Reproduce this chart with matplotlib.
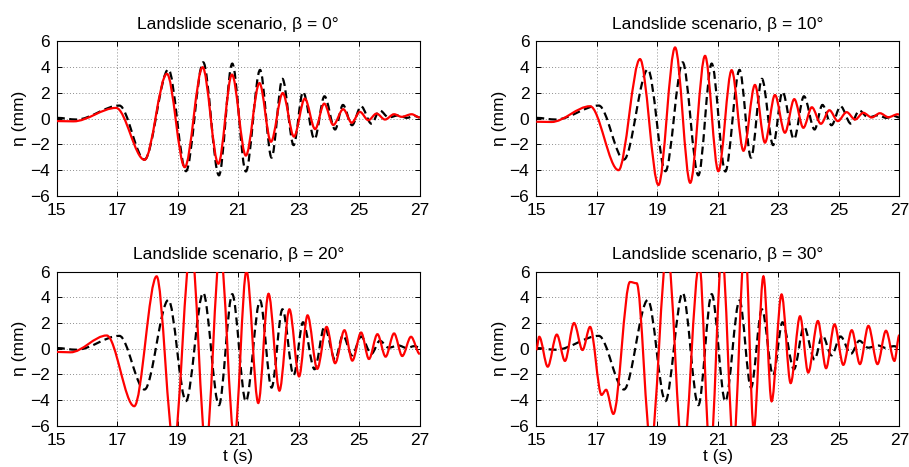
import matplotlib
matplotlib.use('Agg')
import matplotlib.pyplot as plt
from matplotlib.path import Path
from matplotlib.patches import PathPatch

plt.rcParams['font.family'] = ['Liberation Sans', 'DejaVu Sans']

# ---- data (extrema; time in s, eta in mm) ----
titles = ['Landslide scenario, β = 0°', 'Landslide scenario, β = 10°',
          'Landslide scenario, β = 20°', 'Landslide scenario, β = 30°']
xticks = [15, 17, 19, 21, 23, 25, 27]
yticks = [-6, -4, -2, 0, 2, 4, 6]

# reference (dashed black) series, same in all panels
black_t = [15.0, 15.65, 17.07, 17.9, 18.69, 19.27, 19.84, 20.36, 20.8, 21.25, 21.72,
           22.1, 22.46, 22.83, 23.14, 23.52, 23.85, 24.2, 24.46, 24.76, 25.06, 25.4,
           25.68, 25.97, 26.3, 26.57, 26.82, 27.0]
black_eta = [0.05, -0.08, 1.0, -3.18, 3.8, -4.08, 4.35, -4.4, 4.25, -4.1, 3.76,
             -3.03, 3.07, -2.06, 2.06, -1.6, 1.72, -0.85, 1.05, -0.52, 0.95, -0.4,
             0.62, 0.08, 0.25, 0.05, 0.2, 0.08]

red0_t = [15.0, 15.55, 16.96, 17.9, 18.64, 19.23, 19.82, 20.34, 20.79, 21.25, 21.7,
          22.08, 22.47, 22.84, 23.2, 23.54, 23.84, 24.14, 24.47, 24.75, 25.02, 25.3,
          25.57, 25.85, 26.15, 26.4, 26.73, 27.0]
red0_eta = [-0.2, -0.22, 0.82, -3.2, 3.46, -3.77, 3.97, -3.5, 3.4, -2.87, 2.74,
            -1.8, 1.97, -1.4, 1.54, -0.82, 1.15, -0.5, 0.72, -0.33, 0.51, -0.13,
            0.38, -0.08, 0.33, 0.13, 0.33, 0.08]

red10_t = [15.0, 15.5, 16.78, 17.72, 18.43, 19.04, 19.59, 20.09, 20.58, 21.02, 21.46,
           21.85, 22.23, 22.56, 22.89, 23.22, 23.53, 23.83, 24.11, 24.41, 24.69, 24.97,
           25.26, 25.54, 25.81, 26.09, 26.36, 26.64, 26.95, 27.0]
red10_eta = [-0.25, -0.27, 0.95, -4.0, 4.6, -5.15, 5.5, -4.98, 4.85, -4.08, 3.74,
             -2.5, 2.6, -1.87, 1.82, -1.1, 1.5, -0.72, 0.87, -0.41, 0.64, -0.2,
             0.49, -0.08, 0.44, 0.08, 0.41, 0.1, 0.33, 0.3]

red20_t = [15.0, 15.45, 16.65, 17.56, 18.3, 18.87, 19.44, 19.93, 20.4, 20.87, 21.27,
           21.66, 22.0, 22.36, 22.69, 23.01, 23.29, 23.61, 23.92, 24.2, 24.51, 24.77,
           25.06, 25.32, 25.6, 25.87, 26.15, 26.42, 26.71, 27.0]
red20_eta = [-0.25, -0.28, 1.03, -4.48, 5.64, -7.5, 8.2, -7.7, 7.7, -7.0, 6.05,
             -4.23, 4.28, -3.27, 3.07, -2.16, 2.6, -1.57, 1.7, -1.13, 1.44, -0.93,
             1.26, -0.8, 1.13, -0.62, 1.19, -0.57, 0.93, -0.41]

red30_t = [15.0, 15.1, 15.38, 15.68, 15.95, 16.25, 16.53, 16.78, 17.16, 17.31, 17.55,
           18.1, 18.32, 18.79, 19.33, 19.85, 20.39, 20.75, 21.14, 21.52, 21.9, 22.19,
           22.51, 22.78, 23.11, 23.41, 23.72, 23.99, 24.31, 24.58, 24.86, 25.15,
           25.43, 25.7, 25.98, 26.28, 26.56, 26.84, 27.0]
red30_eta = [-0.1, 0.93, -1.4, 1.1, -0.95, 2.0, -0.1, 1.7, -3.6, -3.2, -5.08,
             5.2, 5.1, -7.5, 7.8, -8.5, 6.6, -8.5, 7.5, -7.5, 8.5, -6.3,
             5.64, -4.1, 4.23, -2.68, 2.53, -1.86, 2.16, -1.52, 1.9, -1.26,
             1.44, -1.2, 1.78, -1.2, 1.4, -0.95, 1.05]

red_series = [(red0_t, red0_eta), (red10_t, red10_eta),
              (red20_t, red20_eta), (red30_t, red30_eta)]


def smooth_path(t, y, k=1.0 / 3.0):
    """Cubic Bezier path through the read points with flat tangents at each point."""
    verts = [(t[0], y[0])]
    codes = [Path.MOVETO]
    for i in range(1, len(t)):
        dt = t[i] - t[i - 1]
        verts += [(t[i - 1] + k * dt, y[i - 1]), (t[i] - k * dt, y[i]), (t[i], y[i])]
        codes += [Path.CURVE4] * 3
    return Path(verts, codes)


fig = plt.figure(figsize=(9.09, 4.67), dpi=100)
positions = [[0.0625, 0.5803, 0.3993, 0.3319], [0.5899, 0.5803, 0.3994, 0.3319],
             [0.0625, 0.0884, 0.3993, 0.3298], [0.5899, 0.0884, 0.3994, 0.3298]]

for i, pos in enumerate(positions):
    ax = fig.add_axes(pos)
    ax.set_xlim(15, 27)
    ax.set_ylim(-6, 6)
    ax.set_xticks(xticks)
    ax.set_yticks(yticks)
    ax.grid(True, color='0.55', linestyle=(0, (1, 2.2)), linewidth=0.7)
    ax.set_axisbelow(True)
    ax.tick_params(direction='in', top=True, right=True, length=3.5, width=0.7,
                   labelsize=12.5, pad=5)
    for sp in ax.spines.values():
        sp.set_linewidth(0.8)
    bp = PathPatch(smooth_path(black_t, black_eta), fill=False, edgecolor='black',
                   linewidth=1.6, linestyle=(0, (3.6, 2.0)), zorder=2)
    ax.add_patch(bp)
    rt, ry = red_series[i]
    rp = PathPatch(smooth_path(rt, ry), fill=False, edgecolor='#ff0000',
                   linewidth=1.6, zorder=3)
    ax.add_patch(rp)
    ax.set_title(titles[i], fontsize=12.5, pad=9)
    ax.set_ylabel('η (mm)', fontsize=12.5, labelpad=2)
    if i >= 2:
        ax.set_xlabel('t (s)', fontsize=12.5, labelpad=1)

fig.savefig('out.png', dpi=100)
